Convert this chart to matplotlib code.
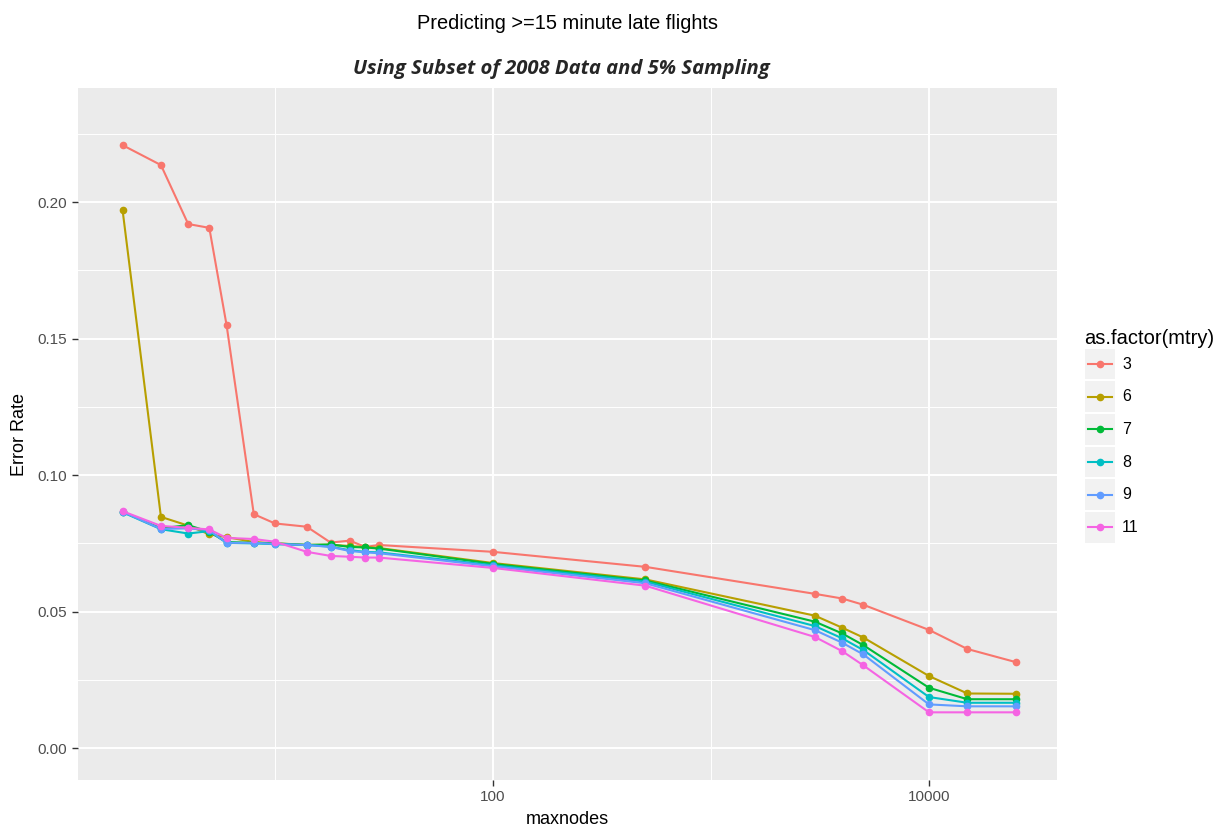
# Error rate vs maxnodes, one line per mtry (ggplot look)

import numpy as np
import matplotlib
matplotlib.use('Agg')
import matplotlib.pyplot as plt
from matplotlib.patches import Rectangle
from matplotlib.ticker import FixedLocator, NullFormatter

# Data

maxnodes = [2, 3, 4, 5, 6, 8, 10, 14, 18, 22, 26, 30, 100, 500, 3000, 4000, 5000, 10000, 15000, 25000]

mtry_levels = ['3', '6', '7', '8', '9', '11']

err_3 = [0.2209, 0.2136, 0.1920, 0.1906, 0.1550, 0.0857, 0.0823, 0.0811, 0.0753, 0.0760,
         0.0737, 0.0744, 0.0719, 0.0664, 0.0565, 0.0548, 0.0525, 0.0433, 0.0363, 0.0315]
err_6 = [0.1972, 0.0847, 0.0815, 0.0783, 0.0773, 0.0755, 0.0750, 0.0745, 0.0745, 0.0740,
         0.0737, 0.0733, 0.0678, 0.0618, 0.0485, 0.0441, 0.0405, 0.0264, 0.0200, 0.0199]
err_7 = [0.0866, 0.0805, 0.0817, 0.0792, 0.0755, 0.0752, 0.0750, 0.0744, 0.0746, 0.0737,
         0.0735, 0.0731, 0.0675, 0.0614, 0.0463, 0.0420, 0.0377, 0.0221, 0.0179, 0.0179]
err_8 = [0.0864, 0.0802, 0.0786, 0.0795, 0.0752, 0.0750, 0.0747, 0.0744, 0.0738, 0.0725,
         0.0719, 0.0717, 0.0670, 0.0610, 0.0447, 0.0402, 0.0359, 0.0187, 0.0166, 0.0166]
err_9 = [0.0866, 0.0803, 0.0805, 0.0798, 0.0752, 0.0752, 0.0748, 0.0744, 0.0737, 0.0722,
         0.0717, 0.0714, 0.0666, 0.0604, 0.0432, 0.0386, 0.0343, 0.0160, 0.0153, 0.0153]
err_11 = [0.0868, 0.0814, 0.0807, 0.0801, 0.0770, 0.0766, 0.0756, 0.0719, 0.0704, 0.0701,
          0.0698, 0.0698, 0.0660, 0.0595, 0.0407, 0.0355, 0.0303, 0.0131, 0.0131, 0.0131]

series = [err_3, err_6, err_7, err_8, err_9, err_11]
colors = ['#F8766D', '#B79F00', '#00BA38', '#00BFC4', '#619CFF', '#F564E3']

# Figure setup

plt.rcParams['font.family'] = ['Liberation Sans', 'DejaVu Sans']

fig = plt.figure(figsize=(12.17, 8.39), dpi=100)
ax = fig.add_axes([0.064, 0.0703, 0.8045, 0.8247])
ax.set_facecolor('#EBEBEB')
for s in ax.spines.values():
    s.set_visible(False)

# Plotting lines

for vals, col in zip(series, colors):
    ax.plot(maxnodes, vals, color=col, lw=1.5, marker='o', markersize=4.5, zorder=3)

ax.set_xscale('log')
ax.set_xlim(1.248, 38640)
ax.set_ylim(-0.0117, 0.2418)

ax.xaxis.set_major_locator(FixedLocator([100, 10000]))
ax.xaxis.set_minor_locator(FixedLocator([10, 1000]))
ax.xaxis.set_minor_formatter(NullFormatter())
ax.set_xticklabels(['100', '10000'])
ax.set_yticks([0.0, 0.05, 0.10, 0.15, 0.20])
ax.set_yticklabels(['0.00', '0.05', '0.10', '0.15', '0.20'])
ax.yaxis.set_minor_locator(FixedLocator([0.025, 0.075, 0.125, 0.175, 0.225]))

ax.grid(True, which='major', color='white', lw=1.4)
ax.grid(True, which='minor', color='white', lw=0.7)
ax.set_axisbelow(True)
ax.tick_params(which='major', length=4, width=1, color='#333333', labelcolor='#4D4D4D', labelsize=11)
ax.tick_params(which='minor', length=0)

ax.set_xlabel('maxnodes', fontsize=13, labelpad=5)
ax.set_ylabel('Error Rate', fontsize=13, labelpad=7)

# Titles

fig.text(0.466, 0.972, 'Predicting >=15 minute late flights', ha='center', va='center', fontsize=14.4)
fig.text(0.461, 0.918, 'Using Subset of 2008 Data and 5% Sampling', ha='center', va='center',
         fontsize=14.6, fontweight='bold', fontstyle='italic', family=['Open Sans', 'DejaVu Sans'],
         color='#262626')

# Legend drawn by hand to get the grey key boxes

lax = fig.add_axes([0.8915, 0.352, 0.0245, 0.2335])
lax.set_xlim(0, 1)
lax.set_ylim(len(mtry_levels), 0)
lax.axis('off')
for i, (lab, col) in enumerate(zip(mtry_levels, colors)):
    lax.add_patch(Rectangle((0, i + 0.03), 1, 0.94, color='#F2F2F2', lw=0))
    lax.plot([0.1, 0.9], [i + 0.5, i + 0.5], color=col, lw=1.5)
    lax.plot([0.5], [i + 0.5], color=col, marker='o', markersize=4.5)
    lax.text(1.25, i + 0.5, lab, va='center', ha='left', fontsize=11.5, color='black')
fig.text(0.8905, 0.597, 'as.factor(mtry)', ha='left', va='center', fontsize=14.5)

fig.savefig('out.png', dpi=100)
